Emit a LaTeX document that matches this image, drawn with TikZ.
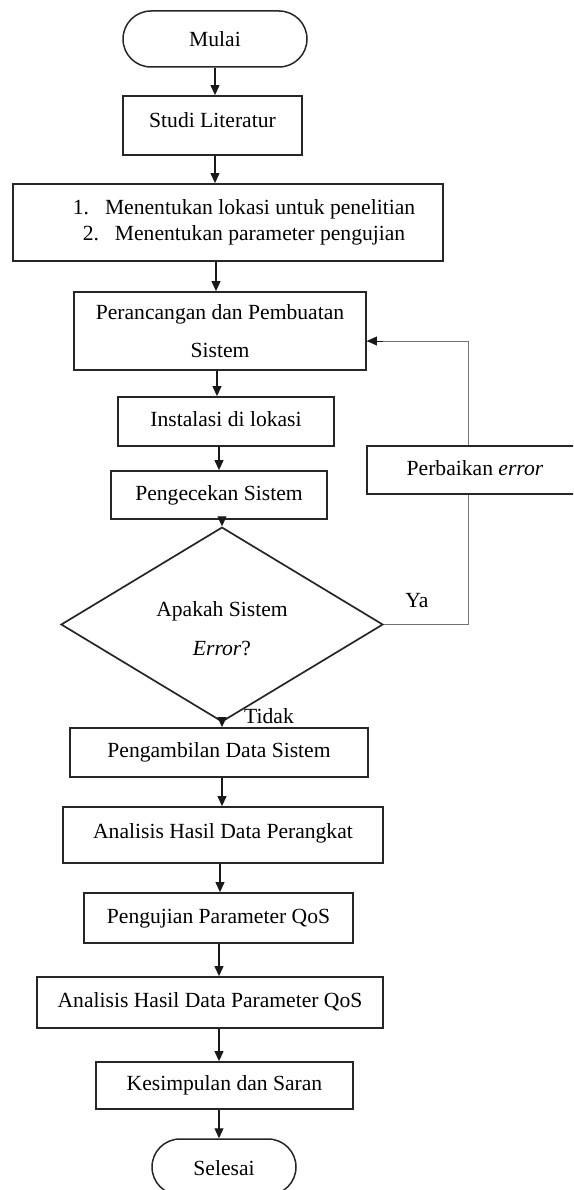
\documentclass[tikz,border=0pt]{standalone}
\usepackage{fontspec}
\setmainfont{Liberation Serif}
\usetikzlibrary{shapes.geometric,shapes.misc,arrows.meta}
\begin{document}
\begin{tikzpicture}[x=1pt,y=-1pt,
  font=\fontsize{21.6}{26}\selectfont,
  proc/.style={draw=black!85, line width=1.8pt, rectangle, inner sep=0pt},
  one/.style={text height=15pt, text depth=5pt},
  term/.style={draw=black!85, line width=1.5pt, rounded rectangle, inner sep=0pt, text height=19pt, text depth=3pt},
  dia/.style={draw=black!85, line width=1.7pt, diamond, inner sep=0pt, align=center},
  arr/.style={draw=black!90, line width=1.1pt, -{Triangle[length=10pt,width=9pt]}},
  fb/.style={draw=black!55, line width=1pt},
  lbl/.style={inner sep=0pt}
]
\clip (0,0) rectangle (573,1190);
\fill[white] (0,0) rectangle (573,1190);

% nodes
\node[term, minimum width=184pt, minimum height=56pt] (mulai) at (215,39) {Mulai};
\node[proc, one, text depth=10pt, minimum width=179pt, minimum height=59pt] (studi) at (212.5,125.5) {Studi Literatur};
\node[proc, minimum width=430pt, minimum height=77pt] (tentu) at (228,222.5)
  {\begin{tabular}{@{\hspace{32pt}}c@{}}1.\hspace{16pt}Menentukan lokasi untuk penelitian\\
   2.\hspace{16pt}Menentukan parameter pengujian\end{tabular}};
\node[proc, align=center, minimum width=292pt, minimum height=78pt] (ranc) at (220,331)
  {Perancangan dan Pembuatan\\[12pt]Sistem};
\node[proc, one, minimum width=216pt, minimum height=49pt] (inst) at (226,421.5) {Instalasi di lokasi};
\node[proc, one, minimum width=216pt, minimum height=48pt] (cek) at (219,495) {Pengecekan Sistem};
\node[dia, minimum width=322pt, minimum height=145pt] (dec) at (222,624.5)
  {\rule{0pt}{24pt}Apakah Sistem\\[13pt]\textit{Error}?};
\node[proc, one, minimum width=216pt, minimum height=48pt] (perb) at (475,470) {Perbaikan \textit{error}};
\node[proc, one, minimum width=298pt, minimum height=49pt] (ambil) at (219,752.5) {Pengambilan Data Sistem};
\node[proc, one, text depth=9pt, minimum width=320pt, minimum height=56pt] (anaP) at (223,835) {Analisis Hasil Data Perangkat};
\node[proc, one, minimum width=269pt, minimum height=50pt] (uji) at (218.5,918) {Pengujian Parameter QoS};
\node[proc, one, minimum width=346pt, minimum height=51pt] (anaQ) at (210,1002.5) {Analisis Hasil Data Parameter QoS};
\node[proc, one, minimum width=257pt, minimum height=47pt] (simp) at (224.5,1085.5) {Kesimpulan dan Saran};
\node[term, minimum width=144pt, minimum height=56pt] (selesai) at (224,1167) {Selesai};

\node[lbl] (ya) at (417,601) {Ya};
\node[lbl] (tidak) at (269,716) {Tidak};

% column coordinates for the vertical arrows
\coordinate (x215) at (215,0);
\coordinate (x216) at (216,0);
\coordinate (x217) at (217,0);
\coordinate (x219) at (219,0);
\coordinate (x220) at (220,0);
\coordinate (x222) at (222,0);
\coordinate (fbtop) at (468,341);

% connectors
\draw[arr] (mulai.south -| x215) -- (studi.north -| x215);
\draw[arr] (studi.south -| x215) -- (tentu.north -| x215);
\draw[arr] (tentu.south -| x216) -- (ranc.north -| x216);
\draw[arr] (ranc.south -| x217) -- (inst.north -| x217);
\draw[arr] (inst.south -| x219) -- (cek.north -| x219);
\draw[arr] (cek.south -| x222) -- (dec.north);
\draw[arr] (dec.south) -- (ambil.north -| x222);
\draw[arr] (ambil.south -| x222) -- (anaP.north -| x222);
\draw[arr] (anaP.south -| x220) -- (uji.north -| x220);
\draw[arr] (uji.south -| x219) -- (anaQ.north -| x219);
\draw[arr] (anaQ.south -| x219) -- (simp.north -| x219);
\draw[arr] (simp.south -| x219) -- (selesai.north -| x219);

% feedback loop
\draw[fb] (dec.east) -- (dec.east -| fbtop) -- (perb.south -| fbtop);
\draw[fb] (perb.north -| fbtop) -- (fbtop) -- (ranc.east |- fbtop);
\draw[arr, line width=1pt] ([xshift=16pt]ranc.east |- fbtop) -- (ranc.east |- fbtop);
\end{tikzpicture}
\end{document}
